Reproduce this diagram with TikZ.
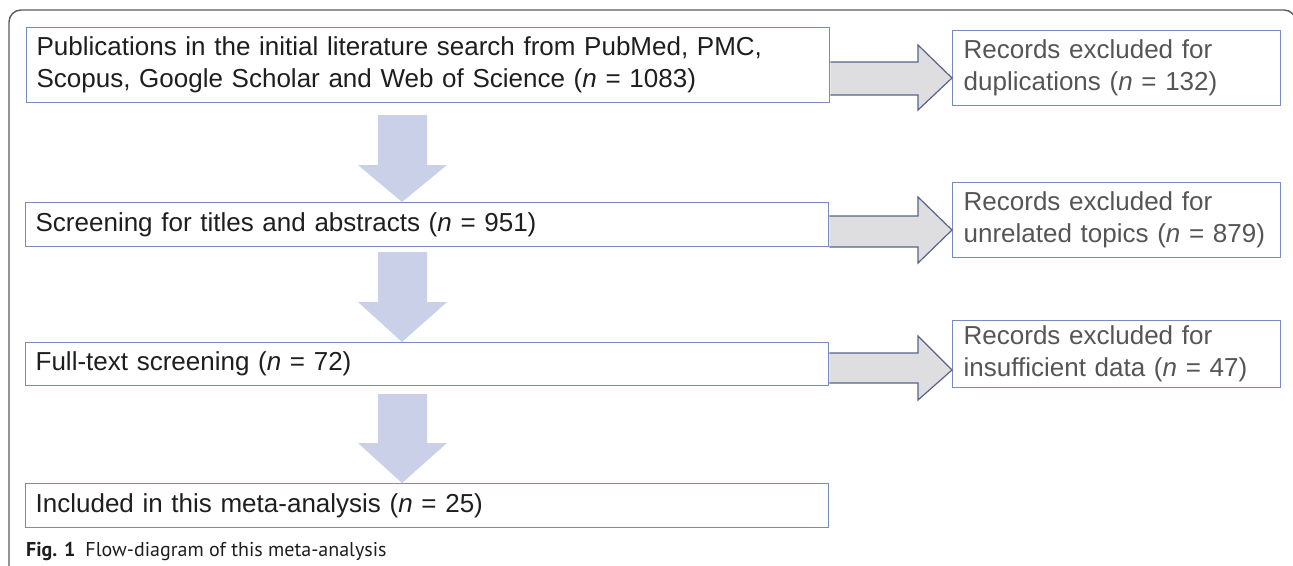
\documentclass[tikz,border=0pt]{standalone}
\usepackage{fontspec}
\setmainfont{Liberation Sans}
\newfontfamily\capfont{PT Sans}
\definecolor{boxline}{RGB}{118,140,188}
\definecolor{harrowline}{RGB}{86,100,140}
\definecolor{harrowfill}{RGB}{222,222,224}
\definecolor{darrowfill}{RGB}{201,208,232}
\definecolor{lefttext}{RGB}{30,30,30}
\definecolor{righttext}{RGB}{85,85,85}
\definecolor{framecol}{RGB}{90,90,90}
\begin{document}
\begin{tikzpicture}[x=1pt,y=-1pt,
  mainbox/.style={draw=boxline, line width=1.3pt, anchor=north west, inner xsep=10pt, inner ysep=0pt,
    text width=783pt, align=left, text=lefttext, font=\fontsize{26}{32}\selectfont},
  sidebox/.style={draw=boxline, line width=1.3pt, anchor=north west, inner xsep=11pt, inner ysep=0pt,
    text width=306pt, align=left, text=righttext, font=\fontsize{26}{32}\selectfont},
  harrow/.style={draw=harrowline, fill=harrowfill, line width=1.2pt, line join=miter},
  darrow/.style={fill=darrowfill},
  frame/.style={draw=framecol, line width=1.4pt, rounded corners=12pt}]
\useasboundingbox (0,0) rectangle (1293,565);
\draw[frame] (9,571) -- (9,10) -- (1296,10) -- (1296,580);

\node[mainbox, minimum height=75pt] (b1) at (26,27) {Publications in the initial literature search from PubMed, PMC,\\Scopus, Google Scholar and Web of Science (\textit{n} = 1083)};
\node[mainbox, minimum height=44pt] (b2) at (25,202) {Screening for titles and abstracts (\textit{n} = 951)};
\node[mainbox, minimum height=43pt] (b3) at (25,342) {Full-text screening (\textit{n} = 72)};
\node[mainbox, minimum height=44pt] (b4) at (25,483) {Included in this meta-analysis (\textit{n} = 25)};

\node[sidebox, minimum height=75pt] (r1) at (952,30) {Records excluded for\\duplications (\textit{n} = 132)};
\node[sidebox, minimum height=75pt] (r2) at (952,182) {Records excluded for\\unrelated topics (\textit{n} = 879)};
\node[sidebox, minimum height=67pt] (r3) at (952,320) {Records excluded for\\insufficient data (\textit{n} = 47)};

% horizontal arrows
\filldraw[harrow] (b1.east |- 0,62) -- (918,62) -- (918,45) -- (r1.west |- 0,78) -- (918,110) -- (918,95) -- (b1.east |- 0,95);
\filldraw[harrow] (b2.east |- 0,216) -- (918,216) -- (918,197) -- (r2.west |- 0,230) -- (918,263) -- (918,247) -- (b2.east |- 0,247);
\filldraw[harrow] (b3.east |- 0,353) -- (918,353) -- (918,336) -- (r3.west |- 0,370) -- (918,400) -- (918,383) -- (b3.east |- 0,383);

% down arrows
\fill[darrow] (378,115) -- (378,165) -- (358,165) -- (402,0 |- b2.north) -- (447,165) -- (427,165) -- (427,115) -- cycle;
\fill[darrow] (378,252) -- (378,302) -- (358,302) -- (402,0 |- b3.north) -- (447,302) -- (427,302) -- (427,252) -- cycle;
\fill[darrow] (378,394) -- (378,443) -- (358,443) -- (402,0 |- b4.north) -- (447,443) -- (427,443) -- (427,394) -- cycle;

\node[anchor=base west, inner sep=0pt, text=lefttext, font=\capfont\fontsize{20}{24}\selectfont] (cap) at (26,556) {\textbf{Fig. 1}\hspace{0.5em}Flow-diagram of this meta-analysis};
\end{tikzpicture}
\end{document}
